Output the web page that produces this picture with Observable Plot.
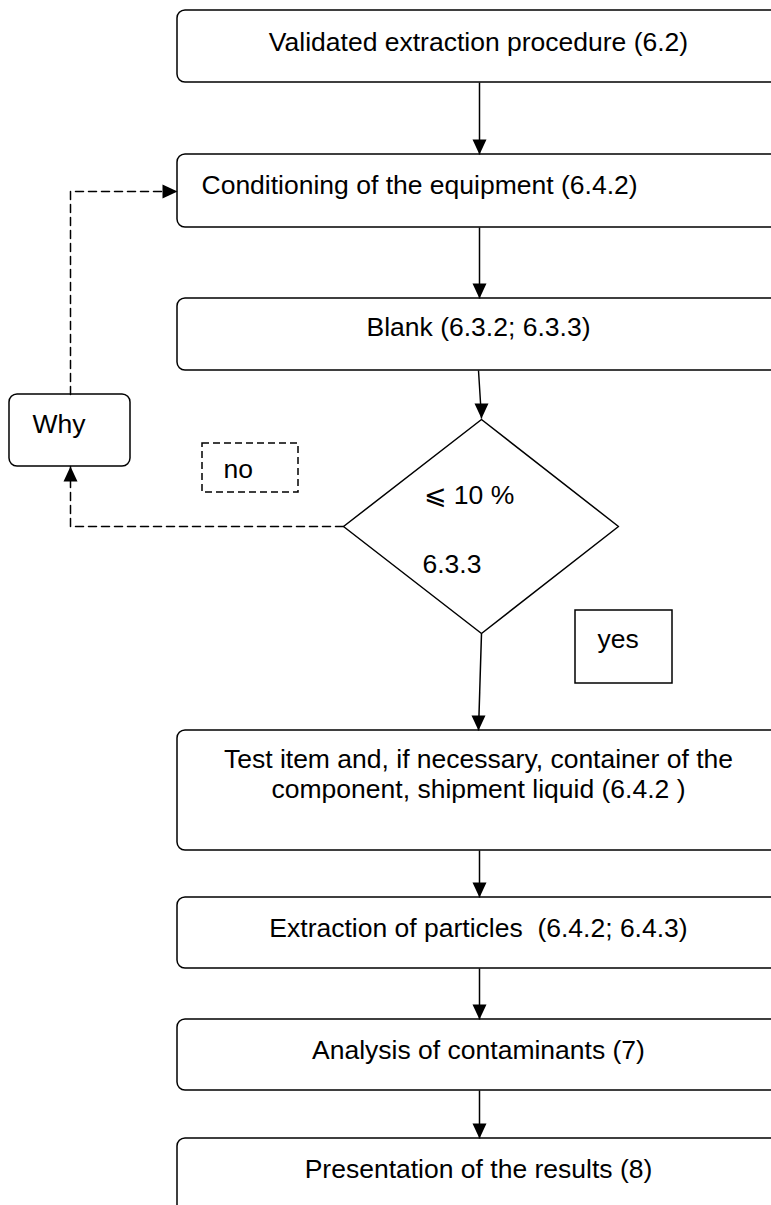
<!DOCTYPE html>
<html><head><meta charset="utf-8">
<script src="https://cdn.jsdelivr.net/npm/d3@7"></script>
<script src="https://cdn.jsdelivr.net/npm/@observablehq/plot@0.6"></script>
<style>html,body{margin:0;padding:0;overflow:hidden;background:#fff}</style>
</head><body><div id="chart"></div>
<script>
const W = 771, H = 1205;

// Process boxes (rounded corners), right/bottom edges run off the page
const processBoxes = [
  {name: "validated",    x1: 177, x2: 800, y1: 10,   y2: 82},
  {name: "conditioning", x1: 177, x2: 800, y1: 154,  y2: 227},
  {name: "blank",        x1: 177, x2: 800, y1: 298,  y2: 370},
  {name: "testitem",     x1: 177, x2: 800, y1: 730,  y2: 850},
  {name: "extraction",   x1: 177, x2: 800, y1: 897,  y2: 968},
  {name: "analysis",     x1: 177, x2: 800, y1: 1019, y2: 1090},
  {name: "presentation", x1: 177, x2: 800, y1: 1138, y2: 1240},
  {name: "why",          x1: 9,   x2: 130, y1: 394,  y2: 466}
];
// Square note boxes
const yesBox = [{x1: 575, x2: 672, y1: 610, y2: 683}];
const noBox  = [{x1: 202, x2: 298, y1: 443, y2: 492}];

// Decision diamond (closed outline)
const diamond = [
  {x: 481, y: 419}, {x: 618, y: 526}, {x: 481, y: 633}, {x: 343, y: 526}, {x: 481, y: 419}
];

// Solid connectors with arrowheads at (x2, y2), pointing down
const solidArrows = [
  {x1: 479, y1: 82,   x2: 479, y2: 154},
  {x1: 479, y1: 227,  x2: 479, y2: 298},
  {x1: 478, y1: 370,  x2: 481, y2: 418},
  {x1: 481, y1: 633,  x2: 478, y2: 730},
  {x1: 479, y1: 850,  x2: 479, y2: 897},
  {x1: 479, y1: 968,  x2: 479, y2: 1019},
  {x1: 479, y1: 1090, x2: 479, y2: 1138}
];

// Dashed feedback paths
const dashedPaths = [
  {path: "no",  x: 343, y: 526}, {path: "no",  x: 70, y: 526}, {path: "no",  x: 70, y: 466},
  {path: "why", x: 70,  y: 394}, {path: "why", x: 70, y: 191}, {path: "why", x: 177, y: 191}
];
const dashedHeads = [
  {dir: "up",    x: 70,  y: 466},
  {dir: "right", x: 177, y: 191}
];

// Labels (y = baseline)
const labels = [
  {text: "Validated extraction procedure (6.2)",          x: 478, y: 50,   anchor: "middle"},
  {text: "Conditioning of the equipment (6.4.2)",         x: 201, y: 193,  anchor: "start"},
  {text: "Blank (6.3.2; 6.3.3)",                          x: 478, y: 335,  anchor: "middle"},
  {text: "Why",                                           x: 32,  y: 432,  anchor: "start"},
  {text: "no",                                            x: 223, y: 477,  anchor: "start"},
  {text: "\u2A7D 10 %",                                   x: 423, y: 503,  anchor: "start"},
  {text: "6.3.3",                                         x: 422, y: 572,  anchor: "start"},
  {text: "yes",                                           x: 597, y: 647,  anchor: "start"},
  {text: "Test item and, if necessary, container of the", x: 478, y: 767,  anchor: "middle"},
  {text: "component, shipment liquid (6.4.2 )",           x: 478, y: 797,  anchor: "middle"},
  {text: "Extraction of particles  (6.4.2; 6.4.3)",       x: 478, y: 936,  anchor: "middle"},
  {text: "Analysis of contaminants (7)",                  x: 478, y: 1058, anchor: "middle"},
  {text: "Presentation of the results (8)",               x: 478, y: 1177, anchor: "middle"}
];

// Filled triangular arrowheads (tip at origin)
const HL = 15, HW = 7;
const headDown  = {draw(c){c.moveTo(0,0);c.lineTo(-HW,-HL);c.lineTo(HW,-HL);c.closePath();}};
const headUp    = {draw(c){c.moveTo(0,0);c.lineTo(-HW,HL);c.lineTo(HW,HL);c.closePath();}};
const headRight = {draw(c){c.moveTo(0,0);c.lineTo(-HL,-HW);c.lineTo(-HL,HW);c.closePath();}};

const font = "Liberation Sans, Arial, Helvetica, sans-serif";

const chart = Plot.plot({
  width: W,
  height: H,
  margin: 0,
  x: {domain: [0, W], range: [0, W], axis: null},
  y: {domain: [0, H], range: [0, H], axis: null},
  style: {overflow: "hidden", background: "white"},
  marks: [
    Plot.rect(processBoxes, {x1: "x1", x2: "x2", y1: "y1", y2: "y2", rx: 8, fill: "white", stroke: "black", strokeWidth: 1.5}),
    Plot.rect(yesBox, {x1: "x1", x2: "x2", y1: "y1", y2: "y2", fill: "white", stroke: "black", strokeWidth: 1.5}),
    Plot.rect(noBox, {x1: "x1", x2: "x2", y1: "y1", y2: "y2", fill: "white", stroke: "black", strokeWidth: 1.5, strokeDasharray: "7,4"}),
    Plot.line(diamond, {x: "x", y: "y", stroke: "black", strokeWidth: 1.5, curve: "linear"}),
    Plot.link(solidArrows, {x1: "x1", y1: "y1", x2: "x2", y2: "y2", stroke: "black", strokeWidth: 1.5}),
    Plot.dot(solidArrows, {x: "x2", y: "y2", symbol: headDown, fill: "black", stroke: "none"}),
    Plot.line(dashedPaths, {x: "x", y: "y", z: "path", stroke: "black", strokeWidth: 1.5, strokeDasharray: "8,5"}),
    Plot.dot(dashedHeads.filter(d => d.dir === "up"), {x: "x", y: "y", symbol: headUp, fill: "black", stroke: "none"}),
    Plot.dot(dashedHeads.filter(d => d.dir === "right"), {x: "x", y: "y", symbol: headRight, fill: "black", stroke: "none"}),
    Plot.text(labels.filter(d => d.anchor === "middle"), {x: "x", y: "y", text: "text", textAnchor: "middle", lineAnchor: "bottom", fontSize: 26.5, fontFamily: font, fill: "black"}),
    Plot.text(labels.filter(d => d.anchor === "start"), {x: "x", y: "y", text: "text", textAnchor: "start", lineAnchor: "bottom", fontSize: 26.5, fontFamily: font, fill: "black"})
  ]
});
document.getElementById("chart").appendChild(chart);
</script>
</body></html>
